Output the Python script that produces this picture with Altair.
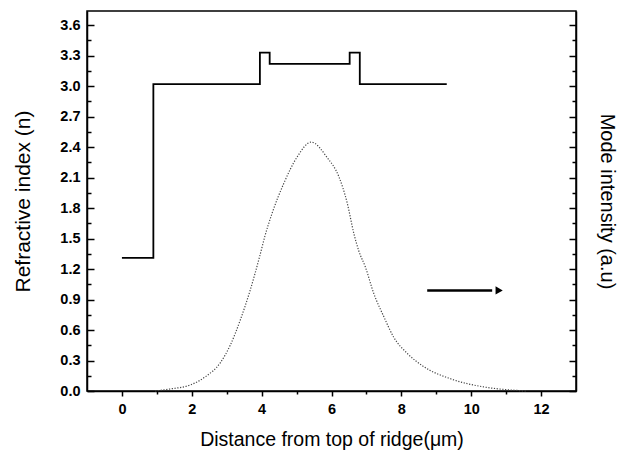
import altair as alt
import pandas as pd

# Refractive index profile (step)
step_x = [0.0, 0.9, 0.9, 3.95, 3.95, 4.23, 4.23, 6.52, 6.52, 6.81, 6.81, 9.3]
step_n = [1.31, 1.31, 3.02, 3.02, 3.33, 3.33, 3.22, 3.22, 3.33, 3.33, 3.02, 3.02]

# Mode intensity profile (plotted on the same vertical frame)
mode_x = [0.95, 1.38, 1.96, 2.39, 2.82, 3.10, 3.39, 3.67, 3.94, 4.09, 4.30, 4.63,
          5.01, 5.42, 5.87, 6.21, 6.45, 6.64, 6.78, 6.97, 7.21, 7.50, 7.78, 8.17,
          8.64, 9.41, 10.36, 11.13, 11.6]
mode_i = [0.0, 0.02, 0.06, 0.14, 0.28, 0.45, 0.70, 0.99, 1.32, 1.52, 1.75, 2.04,
          2.30, 2.45, 2.30, 2.11, 1.85, 1.55, 1.38, 1.22, 0.96, 0.73, 0.53, 0.37,
          0.24, 0.12, 0.04, 0.01, 0.0]

# Arrow pointing to the right axis
arrow_x0, arrow_x1, arrow_head_x, arrow_y = 8.74, 10.6, 10.8, 0.99

x_ticks = list(range(0, 13))
y_ticks = [0.0, 0.15, 0.3, 0.45, 0.6, 0.75, 0.9, 1.05, 1.2, 1.35, 1.5, 1.65, 1.8,
           1.95, 2.1, 2.25, 2.4, 2.55, 2.7, 2.85, 3.0, 3.15, 3.3, 3.45, 3.6]

W, H = 489, 380
FONT = "Liberation Sans"

step_df = pd.DataFrame({"x": step_x, "n": step_n, "o": list(range(len(step_x)))})
mode_df = pd.DataFrame({"x": mode_x, "i": mode_i})
arrow_df = pd.DataFrame({"x": [arrow_x0], "x2": [arrow_x1], "y": [arrow_y]})
head_df = pd.DataFrame({"x": [arrow_head_x], "y": [arrow_y]})

xscale = alt.Scale(domain=[-1, 13], nice=False, zero=False)
yscale = alt.Scale(domain=[0, 3.74], nice=False, zero=False)

major_y = "abs(datum.value/0.3 - round(datum.value/0.3)) < 0.01"

x_axis = alt.Axis(
    values=x_ticks,
    title="Distance from top of ridge(\u03bcm)",
    labelExpr="datum.value % 2 == 0 ? datum.label : ''",
    tickSize={"condition": {"test": "datum.value % 2 == 0", "value": 5}, "value": 3},
    tickColor="black", tickWidth=1.5, domainColor="black", domainWidth=1.5,
    labelFont=FONT, labelFontSize=14.5, labelFontWeight="bold", labelColor="black",
    labelPadding=6, grid=False,
    titleFont=FONT, titleFontSize=19.5, titleFontWeight="normal", titleColor="black",
    titlePadding=15,
)

y_axis_left = alt.Axis(
    orient="left",
    values=y_ticks,
    title="Refractive index (n)",
    labelExpr=major_y + " ? format(datum.value, '.1f') : ''",
    tickSize={"condition": {"test": major_y, "value": -7}, "value": -4},
    tickColor="black", tickWidth=1.5, domainColor="black", domainWidth=1.5,
    labelFont=FONT, labelFontSize=14.5, labelFontWeight="bold", labelColor="black",
    labelPadding=14, grid=False,
    titleFont=FONT, titleFontSize=21, titleFontWeight="normal", titleColor="black",
    titlePadding=26,
)

y_axis_right = alt.Axis(
    orient="right",
    values=y_ticks,
    title="Mode intensity (a.u)",
    labels=False,
    tickSize={"condition": {"test": major_y, "value": -7}, "value": -4},
    tickColor="black", tickWidth=1.5, domainColor="black", domainWidth=1.5,
    grid=False,
    titleFont=FONT, titleFontSize=20, titleFontWeight="normal", titleColor="black",
    titlePadding=20,
)

X = alt.X("x:Q", scale=xscale, axis=x_axis)

step = alt.Chart(step_df).mark_line(color="black", strokeWidth=1.8).encode(
    x=X,
    y=alt.Y("n:Q", scale=yscale, axis=y_axis_left),
    order="o:Q",
)

mode = alt.Chart(mode_df).mark_line(
    color="#444444", strokeWidth=1.2, strokeDash=[1.2, 1.6], interpolate="monotone"
).encode(
    x=X,
    y=alt.Y("i:Q", scale=yscale, axis=y_axis_right),
)

arrow = alt.Chart(arrow_df).mark_rule(color="black", strokeWidth=2.5).encode(
    x=X,
    x2="x2:Q",
    y=alt.Y("y:Q", scale=yscale, axis=None),
)

head = alt.Chart(head_df).mark_point(
    shape="triangle-right", filled=True, color="black", size=70, opacity=1
).encode(
    x=X,
    y=alt.Y("y:Q", scale=yscale, axis=None),
)

chart = alt.layer(step, mode, arrow, head).resolve_axis(y="independent").properties(
    width=W, height=H,
    autosize=alt.AutoSizeParams(type="none"),
    padding={"left": 87, "top": 11, "right": 46, "bottom": 63},
    background="white",
).configure_view(stroke="black", strokeWidth=1.5)

chart.save("out.html", embed_options={"renderer": "svg", "actions": False})
